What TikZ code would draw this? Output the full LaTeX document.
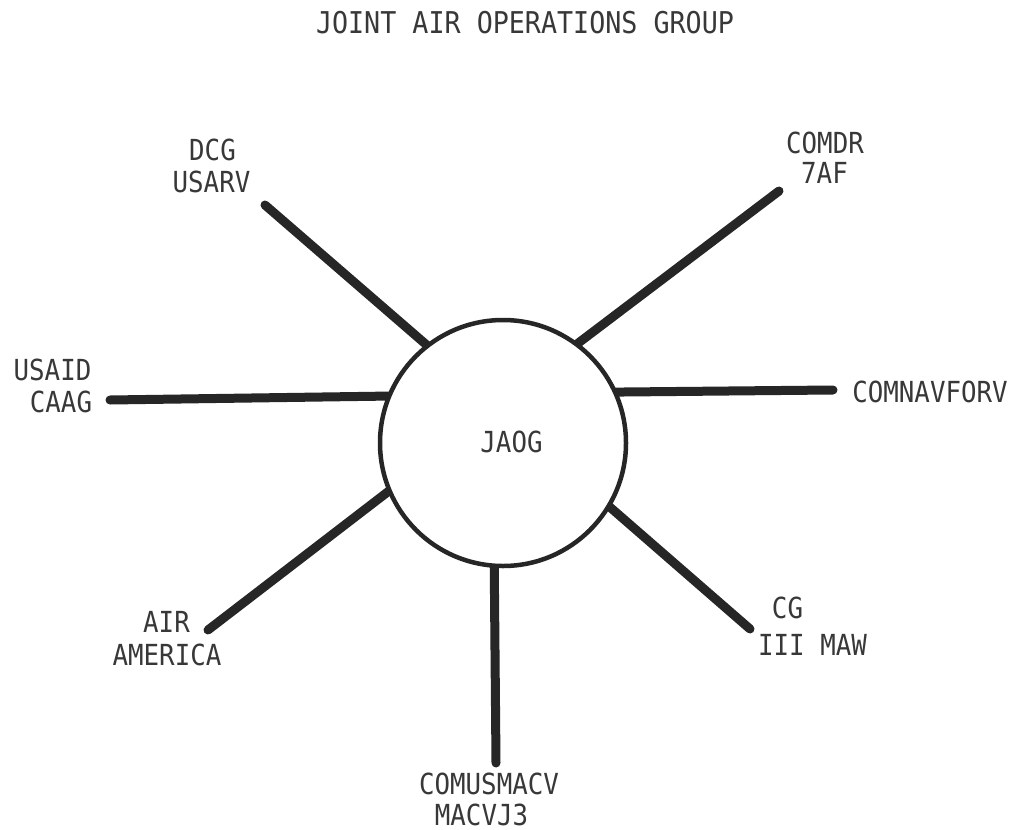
\documentclass[tikz,border=0pt]{standalone}
\usepackage{fontspec}
\usetikzlibrary{backgrounds}
\newfontfamily\labfont[FakeStretch=0.89]{DejaVu Sans Mono}
\begin{document}
\begin{tikzpicture}[x=1bp,y=-1bp,
  lab/.style={font=\labfont\fontsize{29bp}{32bp}\selectfont, text=black!78, inner sep=0pt, anchor=base},
  spoke/.style={line width=9bp, line cap=round, draw=black!85, shorten <=-8bp},
  hub/.style={circle, draw=black!85, line width=4.5bp, fill=white, minimum size=246bp, inner sep=0pt}]
\useasboundingbox (0,0) rectangle (1015,830);
% hub
\node[hub] (jaog) at (503,443) {};
\node[lab] (jaogt) at (511.5,452) {JAOG};
% title
\node[lab, font=\labfont\fontsize{30bp}{34bp}\selectfont] (title) at (525,33) {JOINT AIR OPERATIONS GROUP};
% labels
\node[lab] (dcgA) at (212.5,160) {DCG};
\node[lab] (dcgB) at (211.5,192) {USARV};
\node[lab] (comdrA) at (825,153) {COMDR};
\node[lab] (comdrB) at (824.5,183) {7AF};
\node[lab] (usaidA) at (52.5,380) {USAID};
\node[lab] (usaidB) at (61,412) {CAAG};
\node[lab] (comnav) at (930,402) {COMNAVFORV};
\node[lab] (airA) at (166.5,632) {AIR};
\node[lab] (airB) at (167,665) {AMERICA};
\node[lab] (cgA) at (787.5,618) {CG};
\node[lab] (cgB) at (812.5,655) {III MAW};
\node[lab] (comusA) at (489,794) {COMUSMACV};
\node[lab, text depth=0pt] (comusB) at (481.5,825) {MACVJ3};
% outer ends of the spokes
\coordinate (eDCG) at (265,205);
\coordinate (eCOMDR) at (779,191);
\coordinate (eUSAID) at (110,400);
\coordinate (eCOMNAV) at (833,390);
\coordinate (eAIR) at (208,630);
\coordinate (eCOMUS) at (496,763);
\coordinate (eCG) at (750,629);
\begin{scope}[on background layer]
\fill[white] (0,0) rectangle (1015,830);
\draw[spoke] (jaog.128) -- (eDCG);
\draw[spoke] (jaog.53) -- (eCOMDR);
\draw[spoke] (jaog.158) -- (eUSAID);
\draw[spoke] (jaog.24) -- (eCOMNAV);
\draw[spoke] (jaog.203) -- (eAIR);
\draw[spoke] (jaog.266) -- (eCOMUS);
\draw[spoke] (jaog.329) -- (eCG);
\end{scope}
\end{tikzpicture}
\end{document}
